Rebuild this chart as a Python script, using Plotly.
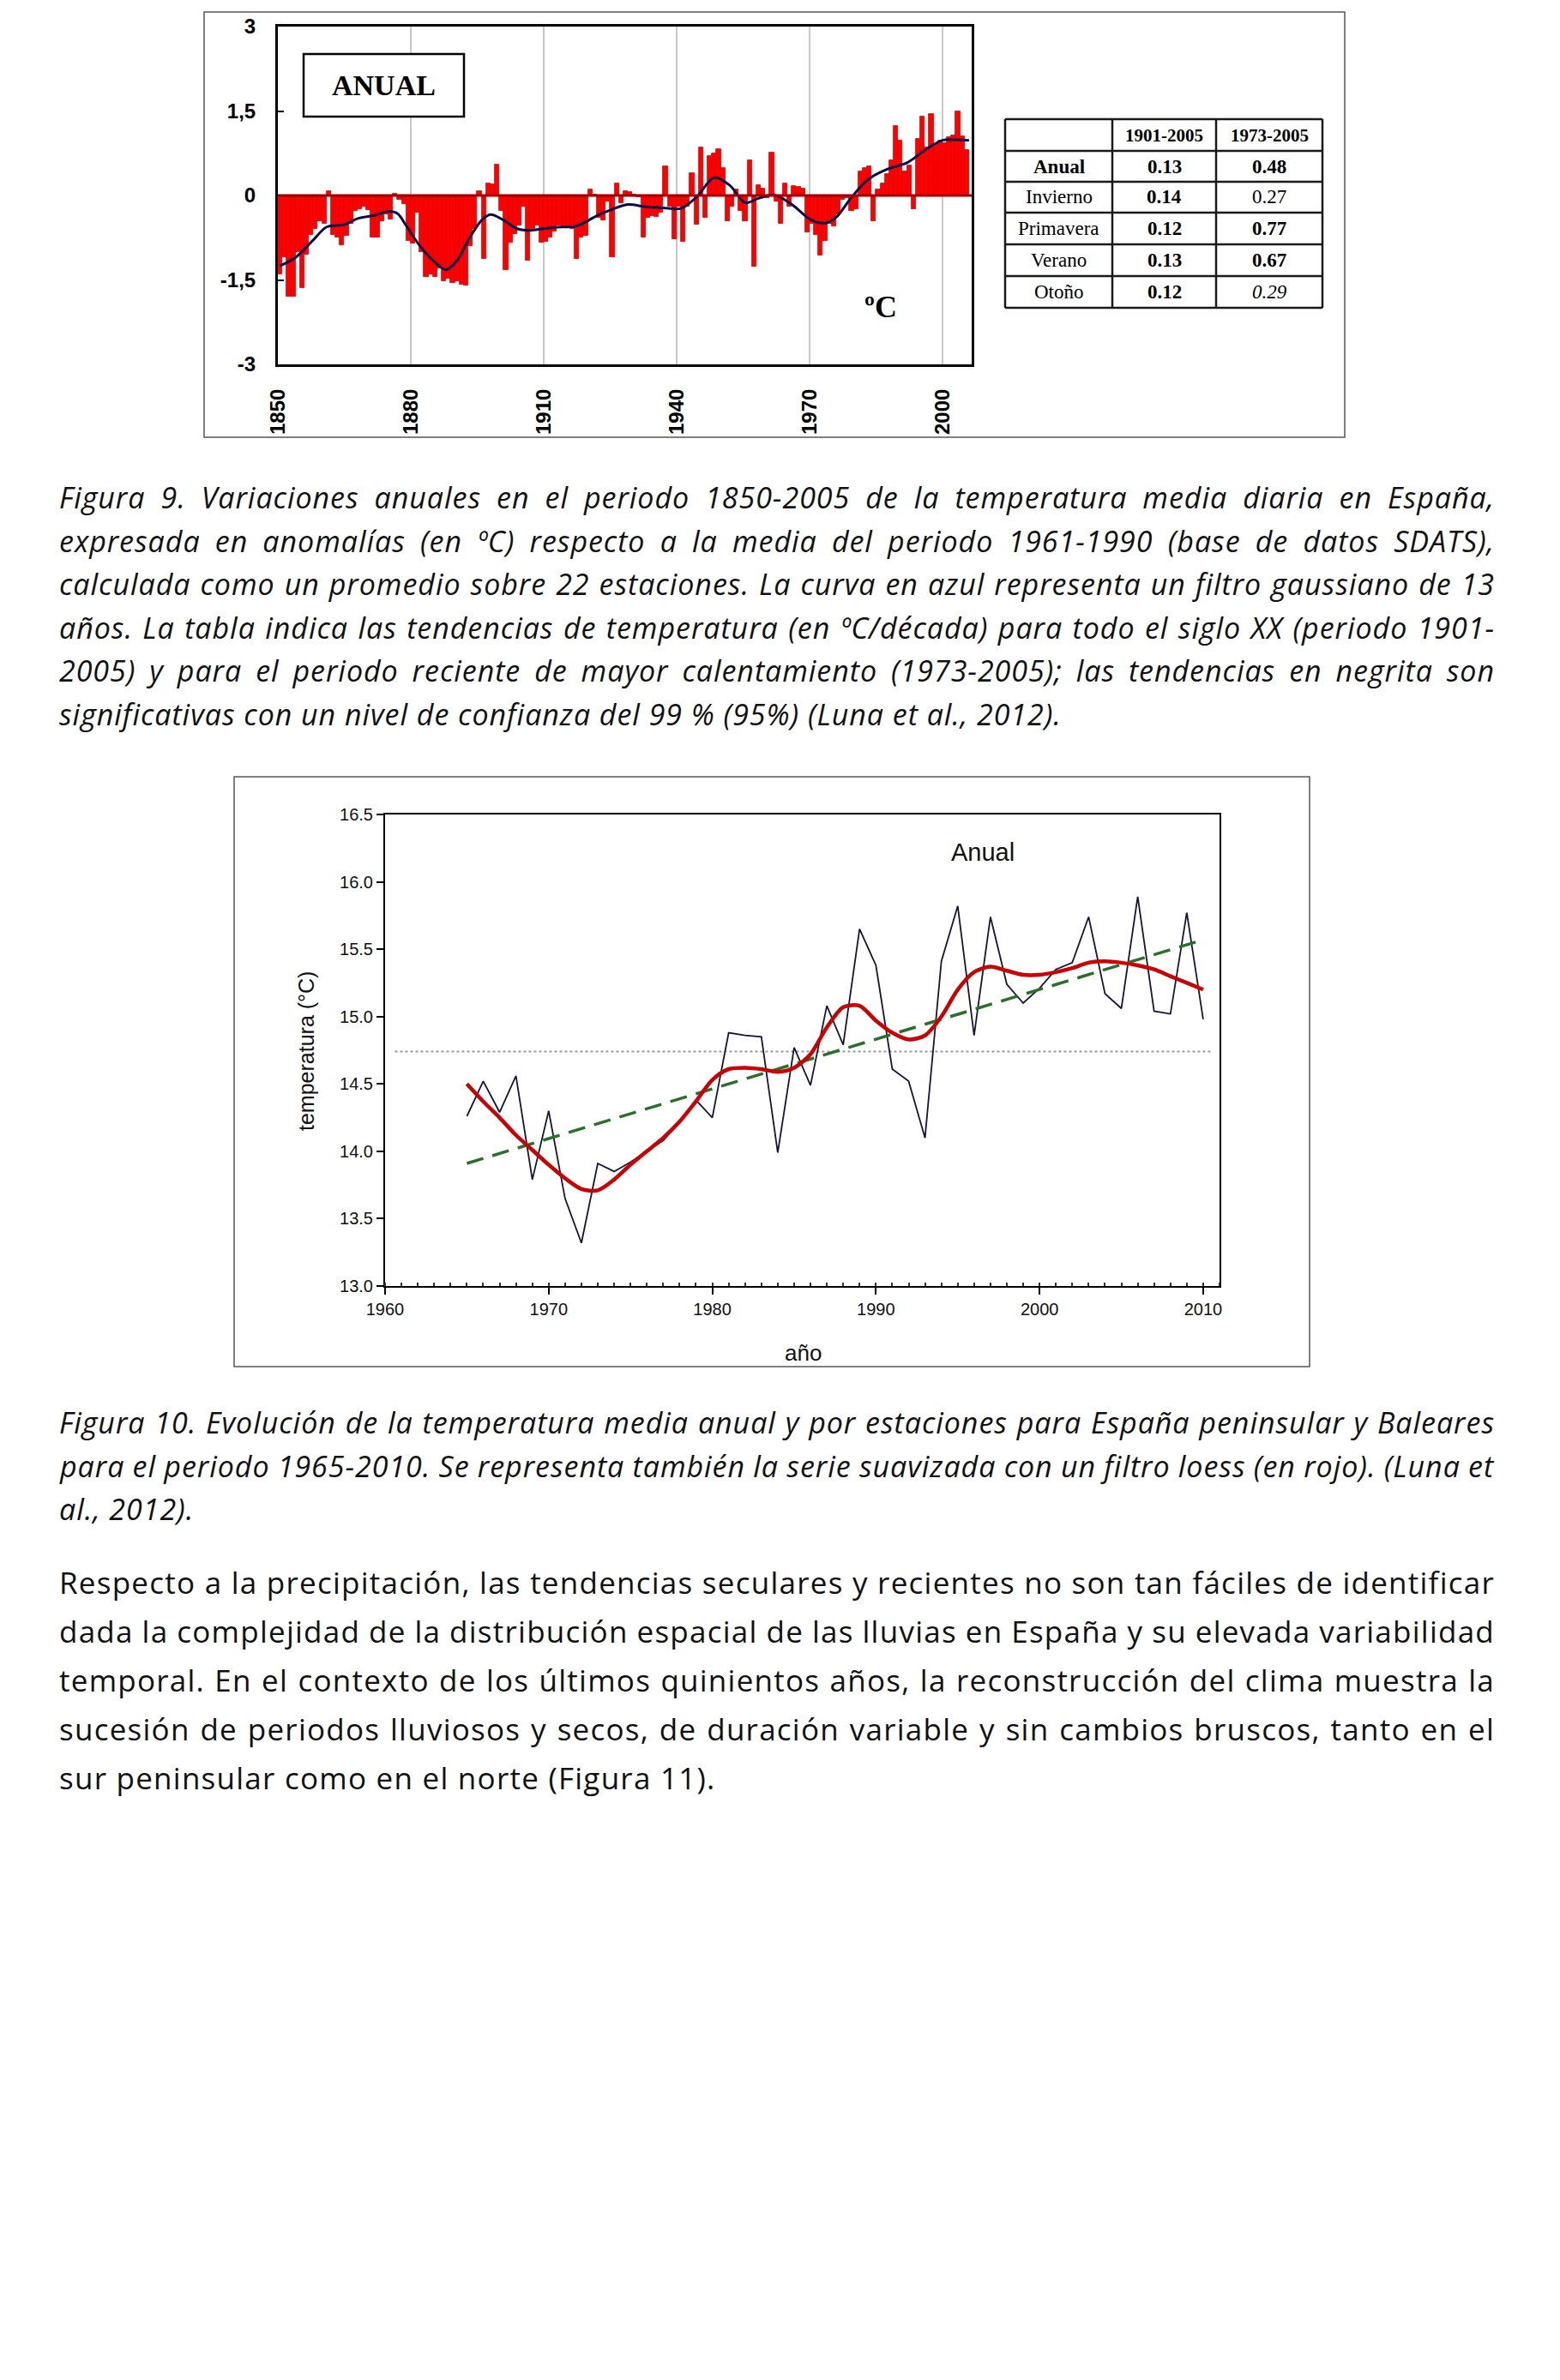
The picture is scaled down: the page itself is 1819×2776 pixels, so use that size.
import json
import plotly.graph_objects as go

W, H = 1819, 2776
def px(x): return x / W
def py(y): return 1 - y / H

# ---------------- Figure 9 data ----------------
years9 = list(range(1850, 2006))
anom9 = [
    -1.40, -1.10, -1.80, -1.80, -1.00, -1.65, -1.05, -0.70, -0.60, -0.45,
    -0.50, 0.08, -0.70, -0.75, -0.88, -0.72, -0.50, -0.28, -0.25, -0.20,
    -0.26, -0.74, -0.74, -0.46, -0.34, -0.42, 0.03, -0.08, -0.15, -0.80,
    -0.85, -0.30, -1.00, -1.45, -1.40, -1.45, -1.30, -1.53, -1.48, -1.55,
    -1.53, -1.58, -1.60, -0.90, -0.60, 0.07, -1.12, 0.22, 0.20, 0.55,
    -0.28, -1.32, -0.84, -0.69, -0.54, -0.20, -1.15, -0.59, -0.54, -0.84,
    -0.82, -0.74, -0.64, -0.54, -0.56, -0.56, -0.59, -1.12, -0.74, -0.72,
    0.10, 0.02, -0.39, -0.44, -0.10, -1.10, 0.22, -0.13, 0.07, 0.06,
    0.02, -0.03, -0.74, -0.40, -0.36, -0.38, -0.30, 0.52, -0.20, -0.78,
    -0.20, -0.82, -0.20, 0.40, -0.52, 0.86, -0.39, 0.70, 0.74, 0.82,
    0.48, -0.46, -0.20, 0.10, -0.28, -0.46, 0.62, -1.27, 0.18, 0.12,
    -0.05, 0.76, -0.10, -0.50, 0.22, -0.20, 0.17, 0.15, 0.12, -0.66,
    -0.50, -0.70, -1.06, -0.80, -0.50, -0.55, -0.34, -0.08, -0.05, -0.28,
    -0.24, 0.43, 0.48, 0.52, -0.46, 0.10, 0.22, 0.38, 0.62, 1.24,
    0.97, 0.43, 0.53, -0.25, 1.00, 1.40, 0.85, 1.44, 0.91, 0.98,
    0.93, 1.04, 1.06, 1.49, 1.05, 0.80,
]
gauss9_years = [1850.5, 1854, 1858, 1861, 1865, 1868, 1872, 1875, 1877, 1879,
                1882, 1885.5, 1888, 1890.5, 1893, 1896, 1898, 1901, 1904, 1907,
                1910, 1914, 1917, 1919, 1922, 1925, 1929, 1933, 1937, 1941,
                1944.5, 1948.5, 1952, 1955.5, 1958.5, 1962, 1966, 1970.5, 1973.5, 1976,
                1979.5, 1983.5, 1988, 1992, 1996.5, 2000, 2003, 2006]
gauss9_vals = [-1.25, -1.10, -0.79, -0.56, -0.52, -0.41, -0.35, -0.28, -0.32, -0.54,
               -0.89, -1.19, -1.32, -1.15, -0.79, -0.44, -0.34, -0.44, -0.59, -0.62,
               -0.59, -0.56, -0.55, -0.49, -0.36, -0.26, -0.16, -0.20, -0.22, -0.23,
               -0.03, 0.32, 0.18, -0.13, -0.05, 0.01, -0.16, -0.44, -0.49, -0.39,
               -0.03, 0.30, 0.48, 0.58, 0.83, 0.98, 0.99, 0.98]
x9_ticks = [1850, 1880, 1910, 1940, 1970, 2000]
y9_ticks = [-3, -1.5, 0, 1.5, 3]
y9_ticktext = ["-3", "-1,5", "0", "1,5", "3"]

table_cols = ["", "1901-2005", "1973-2005"]
table_rows = ["Anual", "Invierno", "Primavera", "Verano", "Otoño"]
trend_1901 = ["0.13", "0.14", "0.12", "0.13", "0.12"]
trend_1973 = ["0.48", "0.27", "0.77", "0.67", "0.29"]
row_style = ["b", "", "", "", ""]
c1_style = ["b", "b", "b", "b", "b"]
c2_style = ["b", "", "b", "b", "i"]

# ---------------- Figure 10 data ----------------
years10 = list(range(1965, 2011))
temp10 = [14.26, 14.52, 14.29, 14.56, 13.79, 14.30, 13.65, 13.32, 13.91, 13.85,
          13.92, 14.00, 14.08, 14.22, 14.38, 14.25, 14.88, 14.86, 14.85, 13.99,
          14.77, 14.49, 15.08, 14.79, 15.65, 15.38, 14.61, 14.52, 14.10, 15.41,
          15.82, 14.86, 15.74, 15.24, 15.10, 15.21, 15.35, 15.40, 15.74, 15.17,
          15.06, 15.89, 15.04, 15.02, 15.77, 14.98]
loess10 = [14.50, 14.37, 14.25, 14.12, 14.01, 13.90, 13.80, 13.72, 13.71, 13.79,
           13.90, 14.00, 14.10, 14.22, 14.37, 14.53, 14.61, 14.62, 14.61, 14.59,
           14.62, 14.72, 14.92, 15.07, 15.08, 14.97, 14.88, 14.83, 14.86, 15.00,
           15.20, 15.33, 15.37, 15.34, 15.31, 15.31, 15.33, 15.36, 15.40, 15.41,
           15.40, 15.38, 15.35, 15.30, 15.25, 15.20]
trend10_x = [1965, 2010]
trend10_y = [13.91, 15.57]
mean10_x = [1960.6, 2010.6]
mean10_y = [14.74, 14.74]

# ---------------- Text ----------------
cap9 = [
    "Figura 9. Variaciones anuales en el periodo 1850-2005 de la temperatura media diaria en España,",
    "expresada en anomalías (en ºC) respecto a la media del periodo 1961-1990 (base de datos SDATS),",
    "calculada como un promedio sobre 22 estaciones. La curva en azul representa un filtro gaussiano de 13",
    "años. La tabla indica las tendencias de temperatura (en ºC/década) para todo el siglo XX (periodo 1901-",
    "2005) y para el periodo reciente de mayor calentamiento (1973-2005); las tendencias en negrita son",
    "significativas con un nivel de confianza del 99 % (95%) (Luna et al., 2012).",
]
cap10 = [
    "Figura 10. Evolución de la temperatura media anual y por estaciones para España peninsular y Baleares",
    "para el periodo 1965-2010. Se representa también la serie suavizada con un filtro loess (en rojo). (Luna et",
    "al., 2012).",
]
body = [
    "Respecto a la precipitación, las tendencias seculares y recientes no son tan fáciles de identificar",
    "dada la complejidad de la distribución espacial de las lluvias en España y su elevada variabilidad",
    "temporal. En el contexto de los últimos quinientos años, la reconstrucción del clima muestra la",
    "sucesión de periodos lluviosos y secos, de duración variable y sin cambios bruscos, tanto en el",
    "sur peninsular como en el norte (Figura 11).",
]

fig = go.Figure()

# Figure 9 traces
fig.add_trace(go.Bar(
    x=[y + 0.5 for y in years9], y=anom9, width=1.0,
    marker=dict(color="#ff0000", line=dict(color="#d40000", width=0.8)),
    xaxis="x", yaxis="y", showlegend=False, hoverinfo="skip"))
fig.add_trace(go.Scatter(
    x=gauss9_years, y=gauss9_vals, mode="lines",
    line=dict(color="#0b0b4a", width=3, shape="spline", smoothing=0.9),
    xaxis="x", yaxis="y", showlegend=False, hoverinfo="skip"))

# Figure 10 traces
fig.add_trace(go.Scatter(x=mean10_x, y=mean10_y, mode="lines",
    line=dict(color="#9a9a9a", width=2, dash="dot"),
    xaxis="x2", yaxis="y2", showlegend=False, hoverinfo="skip"))
fig.add_trace(go.Scatter(x=years10, y=temp10, mode="lines",
    line=dict(color="#15153a", width=1.8),
    xaxis="x2", yaxis="y2", showlegend=False, hoverinfo="skip"))
fig.add_trace(go.Scatter(x=trend10_x, y=trend10_y, mode="lines",
    line=dict(color="#2a702a", width=3.5, dash="20px,11px"),
    xaxis="x2", yaxis="y2", showlegend=False, hoverinfo="skip"))
fig.add_trace(go.Scatter(x=years10, y=loess10, mode="lines",
    line=dict(color="#cc0000", width=4.5, shape="spline", smoothing=0.8),
    xaxis="x2", yaxis="y2", showlegend=False, hoverinfo="skip"))

shapes = []
annots = []

def note(text, x, y, size, family, color="black", xanchor="center", yanchor="middle", **kw):
    d = dict(text=text, x=px(x), y=py(y), xref="paper", yref="paper", showarrow=False,
             xanchor=xanchor, yanchor=yanchor,
             font=dict(family=family, size=size, color=color))
    d.update(kw)
    annots.append(d)

# Fig 9 frame
shapes.append(dict(type="rect", xref="paper", yref="paper",
                   x0=px(238), x1=px(1568), y0=py(510), y1=py(14),
                   line=dict(color="#555555", width=1.5), layer="below"))
# zero line
shapes.append(dict(type="line", xref="x", yref="y", x0=1850, x1=2006.6, y0=0, y1=0,
                   line=dict(color="#990000", width=3), layer="above"))
# ANUAL box
shapes.append(dict(type="rect", xref="paper", yref="paper",
                   x0=px(354), x1=px(541), y0=py(136), y1=py(63),
                   line=dict(color="black", width=2.5), fillcolor="white", layer="above"))
note("<b>ANUAL</b>", 447, 100, 34, "Liberation Serif")
note("<b>ºC</b>", 1027, 358, 36, "Liberation Serif")

# Table
tx = [1172, 1297, 1418, 1542]
ty = [139, 176, 212, 248, 285, 322, 359]
for xv in tx:
    shapes.append(dict(type="line", xref="paper", yref="paper", x0=px(xv), x1=px(xv),
                       y0=py(ty[0]), y1=py(ty[-1]), line=dict(color="#1a1a1a", width=2.5)))
for yv in ty:
    shapes.append(dict(type="line", xref="paper", yref="paper", x0=px(tx[0]), x1=px(tx[-1]),
                       y0=py(yv), y1=py(yv), line=dict(color="#1a1a1a", width=2.5)))

def styled(s, st):
    if st == "b":
        return "<b>" + s + "</b>"
    if st == "i":
        return "<i>" + s + "</i>"
    return s

for c in range(3):
    if table_cols[c]:
        note("<b>" + table_cols[c] + "</b>", (tx[c] + tx[c + 1]) / 2, (ty[0] + ty[1]) / 2,
             21, "Liberation Serif")
for r in range(5):
    yc = (ty[r + 1] + ty[r + 2]) / 2
    cells = [styled(table_rows[r], row_style[r]), styled(trend_1901[r], c1_style[r]),
             styled(trend_1973[r], c2_style[r])]
    for c in range(3):
        note(cells[c], (tx[c] + tx[c + 1]) / 2, yc, 23, "Liberation Serif")

# Fig 10 frame
shapes.append(dict(type="rect", xref="paper", yref="paper",
                   x0=px(273), x1=px(1527), y0=py(1594), y1=py(906),
                   line=dict(color="#555555", width=1.5), layer="below"))
note("Anual", 1146, 994, 29, "Liberation Sans", "#111")
note("temperatura (°C)", 357, 1226, 25, "Liberation Sans", "#111", textangle=-90)
note("año", 936, 1578, 26, "Liberation Sans", "#111")

# Text blocks
LEFT = 67
RIGHT = 1741
def add_lines(lines, y0, dy, size, italic):
    for k, s in enumerate(lines):
        note(s, LEFT, y0 + k * dy, size, "Open Sans", "#111", xanchor="left")
        annots[-1]["font"]["style"] = "italic" if italic else "normal"

add_lines(cap9, 580, 50.6, 34, True)
add_lines(cap10, 1659, 50.5, 34, True)
add_lines(body, 1846, 56.8, 35, False)

# per-line text spacing: [text, letter spacing px, justify]
text_fmt = ([[s, 0.95, i < len(cap9) - 1] for i, s in enumerate(cap9)] +
            [[s, 0.95, i < len(cap10) - 1] for i, s in enumerate(cap10)] +
            [[s, 1.25, i < len(body) - 1] for i, s in enumerate(body)])

fig.update_layout(
    template="none",
    width=W, height=H, margin=dict(l=0, r=0, t=0, b=0, pad=0, autoexpand=False), autosize=False,
    paper_bgcolor="white", plot_bgcolor="white", bargap=0, showlegend=False,
    shapes=shapes, annotations=annots,
    xaxis=dict(domain=[px(324), px(1133)], range=[1850, 2006.6], anchor="y", automargin=False,
               tickvals=x9_ticks, ticktext=[str(v) for v in x9_ticks], tickangle=-90,
               tickfont=dict(family="Liberation Sans", size=24, color="black", weight="bold"),
               showgrid=True, gridcolor="#c8c8c8", gridwidth=2,
               showline=True, linecolor="black", linewidth=3, mirror=True,
               ticks="", ticklabelstandoff=16, zeroline=False),
    yaxis=dict(domain=[py(425), py(31)], range=[-3, 3], anchor="x", automargin=False,
               tickvals=y9_ticks, ticktext=y9_ticktext,
               tickfont=dict(family="Liberation Sans", size=24, color="black", weight="bold"),
               showgrid=False, zeroline=False,
               showline=True, linecolor="black", linewidth=3, mirror=True,
               ticks="inside", ticklen=7, tickwidth=1.5, tickcolor="black", ticklabelstandoff=18),
    xaxis2=dict(domain=[px(449), px(1422)], range=[1960, 2011], anchor="y2", automargin=False,
                tick0=1960, dtick=10, ticks="outside", ticklen=8, tickwidth=2, tickcolor="black",
                minor=dict(dtick=1, ticks="inside", ticklen=4, tickwidth=1.5, tickcolor="#333"),
                tickfont=dict(family="Liberation Sans", size=20, color="#111"),
                showgrid=False, zeroline=False,
                showline=True, linecolor="black", linewidth=2, mirror=True),
    yaxis2=dict(domain=[py(1500), py(950)], range=[13.0, 16.5], anchor="x2", automargin=False,
                tick0=13, dtick=0.5, tickformat=".1f", ticks="outside", ticklen=8, tickwidth=2,
                tickcolor="black",
                tickfont=dict(family="Liberation Sans", size=20, color="#111"),
                showgrid=False, zeroline=False,
                showline=True, linecolor="black", linewidth=2, mirror=True),
)

post = """
(function(){
 try{
  document.documentElement.style.margin='0';
  document.body.style.margin='0';
  document.body.style.overflow='hidden';
  var gd=document.getElementById('{plot_id}');
  var fmt=%s; var Wt=%f;
  var map={}; fmt.forEach(function(f){ map[f[0]]=f; });
  var ts=gd.querySelectorAll('g.annotation text.annotation-text');
  ts.forEach(function(t){
    var s=t.textContent;
    var f=map[s]; if(!f) return;
    var b0=t.getBBox();
    t.style.letterSpacing=f[1]+'px';
    if(f[2]){
      var bl=t.getBBox();
      var n=(s.match(/ /g)||[]).length;
      if(n) t.style.wordSpacing=((Wt-bl.width)/n)+'px';
    }
    var b1=t.getBBox();
    var dx=b0.x-b1.x;
    var tr=t.getAttribute('transform')||'';
    t.setAttribute('transform',tr+' translate('+dx+',0)');
  });
 }catch(e){}
})();
""" % (json.dumps(text_fmt), RIGHT - LEFT)

fig.write_html("out.html", post_script=post)
